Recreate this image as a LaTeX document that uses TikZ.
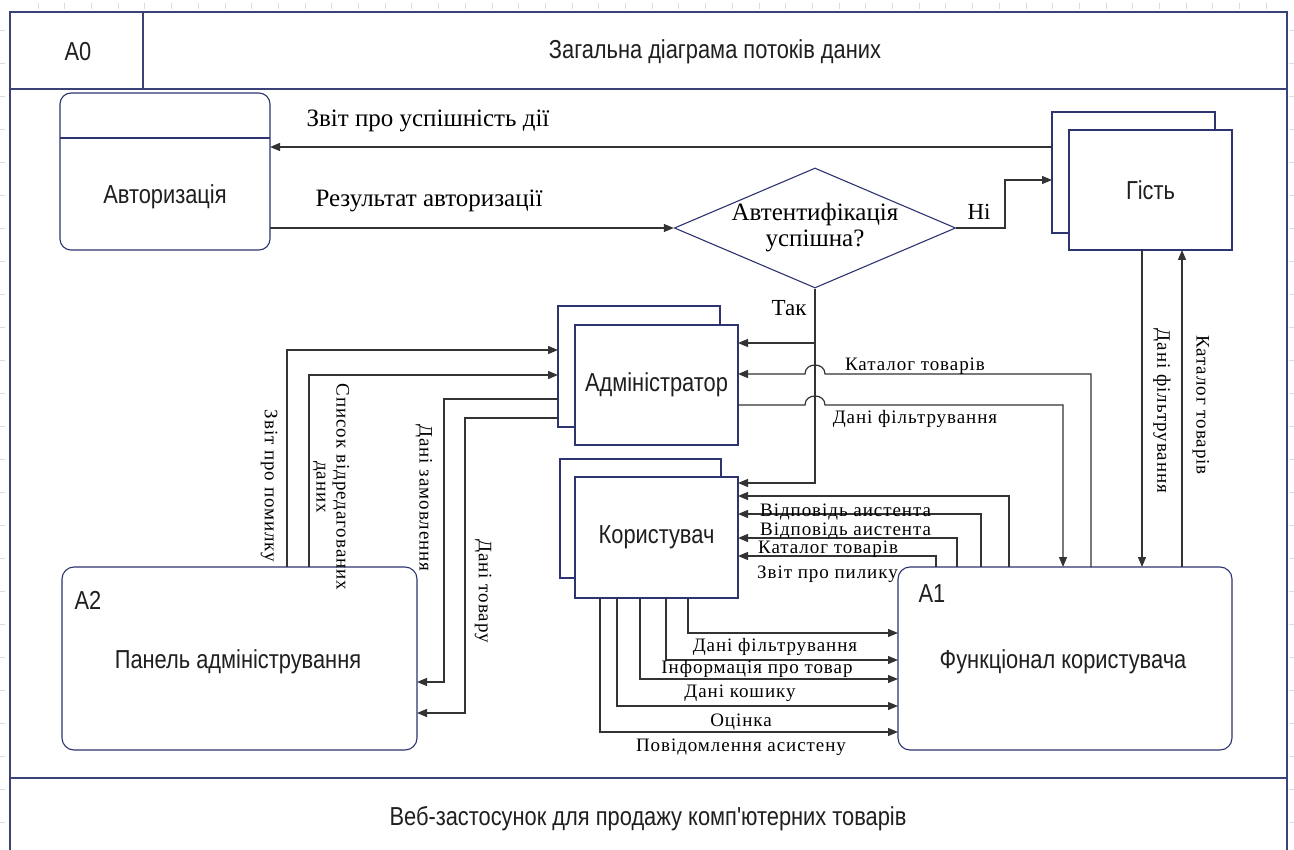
\documentclass[tikz,border=0pt]{standalone}
\usepackage{fontspec}
\setmainfont{Liberation Serif}
\newfontfamily\narrowsans[FakeStretch=0.84]{Liberation Sans}
\newfontfamily\spacedserif[LetterSpace=5]{Liberation Serif}
\usetikzlibrary{arrows.meta,shapes.geometric}
\definecolor{boxc}{HTML}{2E3470}
\definecolor{framec}{HTML}{3B4277}
\definecolor{linec}{HTML}{333333}
\definecolor{tickc}{HTML}{D8DAE4}

\begin{document}
\begin{tikzpicture}[x=1pt,y=-1pt,
  box/.style={draw=boxc, line width=1.1pt, fill=white, inner sep=0pt, outer sep=0pt, anchor=north west},
  flow/.style={draw=linec, line width=1.2pt, -{Triangle[length=10pt,width=8pt]}},
  lbl/.style={font=\spacedserif\fontsize{19}{20}\selectfont, inner sep=0pt},
  big/.style={font=\fontsize{25}{26}\selectfont, inner sep=0pt},
  sans/.style={font=\narrowsans\fontsize{26}{28}\selectfont, text=black!88, inner sep=0pt},
  tick/.style={draw=tickc, line width=0.8pt}]

% page area
\path[fill=white] (0,0) rectangle (1294,850);
\useasboundingbox (0,0) rectangle (1294,850);

% ruler ticks
\foreach \x in {38,64.7,...,1290} \draw[tick] (\x,3) -- (\x,9);
\foreach \y in {30,63,...,850} {\draw[tick] (0,\y) -- (5,\y); \draw[tick] (1289,\y) -- (1294,\y);}

% frame with header and footer
\draw[framec, line width=1.1pt] (10,850) -- (10,12) -- (1287,12) -- (1287,850);
\draw[framec, line width=1.6pt] (10,89) -- (1287,89);
\draw[framec, line width=1.1pt] (143,12) -- (143,89);
\draw[framec, line width=1.1pt] (10,778) -- (1287,778);
\node[sans] (num) at (78,52) {A0};
\node[sans] (title) at (715,52) {Загальна діаграма потоків даних};
\node[sans] (foot) at (648,819) {Веб-застосунок для продажу комп'ютерних товарів};

% authorisation store
\node[box, rounded corners=11pt, minimum width=210pt, minimum height=157pt] (auth) at (60,93) {};
\draw[boxc, line width=1.1pt] (auth.west |- 0,138) -- (auth.east |- 0,138);
\node[sans] (authT) at (165,197) {Авторизація};

% decision
\node[draw=boxc, line width=1.1pt, diamond, shape aspect=2.35, minimum width=280pt, minimum height=120pt,
      inner sep=0pt, align=center, big] (dec) at (815,228) {Автентифікація\\успішна?};

% guest
\node[box, minimum width=163pt, minimum height=121pt] (guestB) at (1052,112) {};
\node[box, minimum width=163pt, minimum height=120pt, sans] (guest) at (1069,130) {Гість};

% administrator
\node[box, minimum width=162pt, minimum height=121pt] (adminB) at (558,306) {};
\node[box, minimum width=163pt, minimum height=120pt, sans] (admin) at (575,325) {Адміністратор};

% user
\node[box, minimum width=161pt, minimum height=119pt] (userB) at (560,459) {};
\node[box, minimum width=163pt, minimum height=121pt, sans] (user) at (575,477) {Користувач};

% A1 and A2
\node[box, rounded corners=12pt, minimum width=334pt, minimum height=183pt] (a1) at (898,567) {};
\node[sans] (a1n) at (932,594) {A1};
\node[sans] (a1T) at (1063,662) {Функціонал користувача};
\node[box, rounded corners=12pt, minimum width=355pt, minimum height=183pt] (a2) at (62,567) {};
\node[sans] (a2n) at (88,600) {A2};
\node[sans] (a2T) at (238,662) {Панель адміністрування};

% authorisation flows
\draw[flow] (guestB.west |- 0,147) -- (auth.east |- 0,147);
\node[big] (l1) at (428,121) {Звіт про успішність дії};
\draw[flow] (auth.east |- 0,228) -- (dec.west);
\node[big] (l2) at (429,201) {Результат авторизації};
\draw[flow] (dec.east) -| (1005,180) -- (guestB.west |- 0,180);
\node[font=\fontsize{23}{24}\selectfont, inner sep=0pt] (no) at (979,212) {Ні};
\draw[flow] (dec.south) -- (815,483) -- (user.east |- 0,483);
\draw[flow] (815,343) -- (admin.east |- 0,343);
\node[font=\fontsize{23}{24}\selectfont, inner sep=0pt] (yes) at (789,308) {Так};

% A1 <-> administrator (with line hops)
\draw[flow] (a1.north -| 1091,0) -- (1091,374) -- (825,374)
  .. controls (825,362) and (805,362) .. (805,374) -- (admin.east |- 0,374);
\node[lbl] (l3) at (915,366) {Каталог товарів};
\draw[flow] (admin.east |- 0,405) -- (805,405)
  .. controls (805,393) and (825,393) .. (825,405) -- (1063,405) -- (a1.north -| 1063,0);
\node[lbl] (l4) at (915,419) {Дані фільтрування};

% guest <-> A1
\draw[flow] (guest.south -| 1142,0) -- (a1.north -| 1142,0);
\node[lbl, rotate=-90] (l5) at (1162,411) {Дані фільтрування};
\draw[flow] (a1.north -| 1182,0) -- (guest.south -| 1182,0);
\node[lbl, rotate=-90] (l6) at (1201,405) {Каталог товарів};

% A1 -> user
\draw[flow] (a1.north -| 1009,0) |- (user.east |- 0,496);
\draw[flow] (a1.north -| 981,0) |- (user.east |- 0,514);
\draw[flow] (a1.north -| 957,0) |- (user.east |- 0,538);
\draw[flow] (a1.north -| 936,0) |- (user.east |- 0,556);
\node[lbl, anchor=west] (l7) at (760,512) {Відповідь аистента};
\node[lbl, anchor=west] (l8) at (760,531) {Відповідь аистента};
\node[lbl, anchor=west] (l9) at (758,549) {Каталог товарів};
\node[lbl, anchor=west] (l10) at (757,574) {Звіт про пилику};

% user -> A1
\draw[flow] (user.south -| 688,0) |- (a1.west |- 0,633);
\draw[flow] (user.south -| 666,0) |- (a1.west |- 0,660);
\draw[flow] (user.south -| 640,0) |- (a1.west |- 0,679);
\draw[flow] (user.south -| 617,0) |- (a1.west |- 0,706);
\draw[flow] (user.south -| 600,0) |- (a1.west |- 0,732);
\node[lbl] (l11) at (775,647) {Дані фільтрування};
\node[lbl] (l12) at (757,669) {Інформація про товар};
\node[lbl] (l13) at (740,693) {Дані кошику};
\node[lbl] (l14) at (741,722) {Оцінка};
\node[lbl] (l15) at (741,747) {Повідомлення асистену};

% A2 <-> administrator
\draw[flow] (a2.north -| 287,0) |- (adminB.west |- 0,350);
\node[lbl, rotate=-90] (l16) at (269,486) {Звіт про помилку};
\draw[flow] (a2.north -| 309,0) |- (adminB.west |- 0,375);
\node[lbl, rotate=-90, align=center] (l17) at (331,487) {Список відредагованих\\даних};
\draw[flow] (adminB.west |- 0,399) -| (444,682) -- (a2.east |- 0,682);
\node[lbl, rotate=-90] (l18) at (424,498) {Дані замовлення};
\draw[flow] (adminB.west |- 0,418) -| (465,713) -- (a2.east |- 0,713);
\node[lbl, rotate=-90] (l19) at (483,591) {Дані товару};
\end{tikzpicture}
\end{document}
